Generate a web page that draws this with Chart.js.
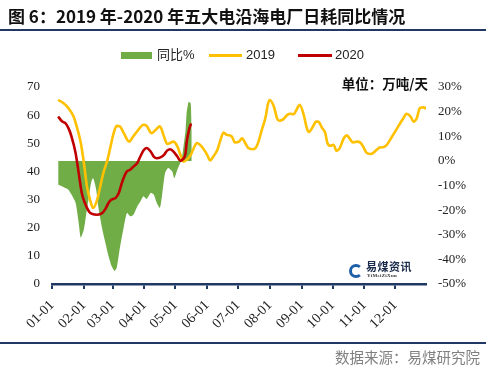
<!DOCTYPE html>
<html>
<head>
<meta charset="utf-8">
<script src="https://cdn.jsdelivr.net/npm/chart.js@4/dist/chart.umd.min.js"></script>
<style>
  html, body { margin: 0; padding: 0; background: #fff; }
  #wrap { position: relative; width: 486px; height: 370px; overflow: hidden; background: #fff; }
  #c { position: absolute; left: 0; top: 0; }
  .abs { position: absolute; white-space: nowrap; }
  #title { left: 8px; top: 4px; font: bold 17px "Noto Sans CJK SC", sans-serif; color: #111; line-height: 24px; }
  #topline { left: 0; top: 29px; width: 486px; height: 2px; background: #1F3864; }
  #botline { left: 0; top: 342px; width: 486px; height: 2px; background: #1F3864; }
  #source { right: 6px; top: 347px; font: 14.5px "Noto Sans CJK SC", sans-serif; color: #808080; line-height: 20px; }
  #unit { right: 58px; top: 74px; font: bold 13.5px "Noto Sans CJK SC", sans-serif; color: #111; line-height: 18px; }
  .leg { font: 13px "Liberation Sans", "Noto Sans CJK SC", sans-serif; color: #222; line-height: 16px; top: 47px; }
  .sw { position: absolute; }
  #logo { left: 349px; top: 259px; }
  #logoicon { position: absolute; left: 0; top: 5px; width: 8px; height: 8px; border-radius: 50%; border: 3px solid #1d5fa8; border-right-color: #fff; background: #fff; }
  #logotext { position: absolute; left: 17px; top: 0px; font: bold 11px "Noto Sans CJK SC", sans-serif; color: #1b2b4b; line-height: 14px; letter-spacing: 0.5px; }
  #logosub { position: absolute; left: 18px; top: 14px; font: bold 5px "Liberation Serif", serif; color: #333; line-height: 6px; letter-spacing: 0.3px; }
</style>
</head>
<body>
<div id="wrap">
  <canvas id="c" width="486" height="370"></canvas>
  <div id="title" class="abs">图 6：2019 年-2020 年五大电沿海电厂日耗同比情况</div>
  <div id="topline" class="abs"></div>

  <div class="sw" style="left:121px; top:52px; width:31px; height:7px; background:#70AD47;"></div>
  <div class="abs leg" style="left:157px;">同比%</div>
  <div class="sw" style="left:209px; top:54px; width:33px; height:3px; background:#FFC000;"></div>
  <div class="abs leg" style="left:246px;">2019</div>
  <div class="sw" style="left:298px; top:54px; width:34px; height:3px; background:#C00000;"></div>
  <div class="abs leg" style="left:335px;">2020</div>

  <div id="unit" class="abs">单位：万吨/天</div>

  <div id="logo" class="abs">
    <div id="logoicon"></div>
    <div id="logotext">易煤资讯</div>
    <div id="logosub">YiMeiZiXun</div>
  </div>

  <div id="botline" class="abs"></div>
  <div id="source" class="abs">数据来源：易煤研究院</div>
</div>
<script>
// ---- Data ----
const monthLabels = ['01-01','02-01','03-01','04-01','05-01','06-01','07-01','08-01','09-01','10-01','11-01','12-01'];
const monthStartDays = [0,31,59,90,120,151,181,212,243,273,304,334];

// 2019 daily coal consumption (万吨/天), sampled by day of year
const days2019 = [6,11,16,21,24,28,31,34,37,40,44,47,50,54,57,60,63,66,70,75,79,84,89,92,97,101,105,109,112,115,118,122,125,128,131,135,138,141,144,148,151,154,157,161,164,167,170,175,178,182,185,188,191,195,198,201,204,208,210,212,216,219,221,225,229,232,235,238,241,245,248,250,254,257,259,263,266,268,271,274,277,280,284,287,290,293,297,300,303,306,310,313,316,319,323,326,329,332,336,339,342,345,349,352,355,358,362,364];
const values2019 = [65.4,64.3,62.5,59.5,56.0,50.2,43.1,34.7,30.0,27.0,30.0,34.7,39.5,44.1,48.9,53.6,56.2,56.0,53.5,50.6,52.4,54.8,56.6,56.2,53.6,54.8,56.0,52.4,49.8,50.1,50.6,48.9,45.9,43.5,44.1,45.9,48.3,50.1,49.5,47.7,45.9,43.9,45.3,47.7,51.2,53.8,53.0,52.4,50.3,50.6,51.8,50.1,48.3,47.9,48.3,50.6,54.5,59.5,63.7,65.4,63.0,58.9,58.0,58.5,60.1,60.5,60.3,61.9,63.7,60.1,55.4,54.0,56.0,57.7,57.7,55.4,53.6,50.1,49.1,49.5,47.3,48.3,51.8,52.8,51.5,50.3,50.6,50.3,48.7,46.7,46.2,46.7,47.7,48.5,48.7,49.5,51.2,53.0,55.4,57.2,58.9,60.5,59.5,57.7,58.9,62.5,62.8,62.2];

// 2020 daily coal consumption (万吨/天)
const days2020 = [6,10,13,16,19,23,26,29,32,36,39,44,49,52,55,58,62,65,68,71,73,76,79,83,86,89,92,96,99,102,105,109,112,115,118,122,125,127,130,131,133,135,136];
const values2020 = [59.5,57.7,57.2,55.4,52.4,46.5,39.4,32.3,28.8,25.8,24.9,24.6,25.2,26.7,28.8,30.0,30.6,32.3,35.9,38.8,40.0,40.6,41.6,43.0,45.3,47.4,48.3,47.1,45.3,44.7,44.9,45.9,47.4,47.9,47.1,45.3,43.8,44.2,46.5,50.1,54.2,56.6,56.8];

// Year-on-year change (%)
const daysYoY = [6,10,13,16,19,23,26,28,31,33,36,38,40,43,45,49,52,55,58,61,63,66,70,73,76,79,83,86,89,92,96,99,102,105,107,110,113,117,119,122,124,126,128,130,131,133,135,136];
const valuesYoY = [-9.7,-10.4,-11.0,-11.7,-13.7,-17.1,-25.2,-31.2,-27.9,-22.5,-14.4,-9.0,-7.0,-11.7,-18.5,-27.9,-33.3,-38.6,-42.7,-44.7,-43.4,-35.5,-26.5,-21.1,-22.5,-22.0,-18.5,-16.5,-14.4,-15.5,-13.0,-13.7,-17.1,-19.1,-14.4,-5.0,-2.9,-4.3,-7.0,-3.6,-1.6,0.4,5.8,12.5,19.3,24.0,23.3,12.0];

const toXY = (xs, ys) => xs.map((x, i) => ({ x: x, y: ys[i] }));

const tickFont = { family: '"Liberation Serif", "Times New Roman", serif', size: 13 };
const xTickFont = { family: '"Liberation Serif", "Times New Roman", serif', size: 14 };

new Chart(document.getElementById('c'), {
  type: 'line',
  data: {
    datasets: [
      {
        label: '同比%',
        data: toXY(daysYoY, valuesYoY),
        yAxisID: 'yR',
        borderWidth: 0,
        borderColor: 'rgba(0,0,0,0)',
        backgroundColor: '#70AD47',
        fill: 'origin',
        pointRadius: 0,
        tension: 0.2,
        order: 3
      },
      {
        label: '2019',
        data: toXY(days2019, values2019),
        yAxisID: 'yL',
        borderColor: '#FFC000',
        borderWidth: 2.6,
        fill: false,
        pointRadius: 0,
        tension: 0.4,
        cubicInterpolationMode: 'monotone',
        order: 2
      },
      {
        label: '2020',
        data: toXY(days2020, values2020),
        yAxisID: 'yL',
        borderColor: '#C00000',
        borderWidth: 2.6,
        fill: false,
        pointRadius: 0,
        tension: 0.4,
        cubicInterpolationMode: 'monotone',
        order: 1
      }
    ]
  },
  options: {
    responsive: false,
    animation: false,
    devicePixelRatio: 1,
    layout: { padding: { top: 87, bottom: 0, left: 0, right: 0 } },
    plugins: { legend: { display: false }, tooltip: { enabled: false }, title: { display: false } },
    scales: {
      x: {
        type: 'linear',
        min: 0,
        max: 364,
        afterBuildTicks: (s) => { s.ticks = monthStartDays.map(v => ({ value: v })); },
        afterFit: (s) => { s.height = 86; },
        ticks: {
          autoSkip: false,
          maxRotation: 45,
          minRotation: 45,
          padding: 8,
          color: '#222',
          font: xTickFont,
          callback: (v) => { const i = monthStartDays.indexOf(v); return i >= 0 ? monthLabels[i] : ''; }
        },
        grid: { display: true, drawOnChartArea: false, drawTicks: true, tickLength: 5, color: '#1F3864', lineWidth: 2 },
        border: { display: true, color: '#1F3864', width: 2.5 }
      },
      yL: {
        position: 'left',
        min: 0,
        max: 70,
        afterFit: (s) => { s.width = 52; },
        ticks: { stepSize: 10, padding: 12, color: '#222', font: tickFont },
        grid: { display: false, drawTicks: false },
        border: { display: false }
      },
      yR: {
        position: 'right',
        min: -50,
        max: 30,
        afterFit: (s) => { s.width = 60; },
        ticks: { stepSize: 10, padding: 12, color: '#222', font: tickFont, callback: (v) => v + '%' },
        grid: { display: false, drawTicks: false },
        border: { display: false }
      }
    }
  }
});
</script>
</body>
</html>
